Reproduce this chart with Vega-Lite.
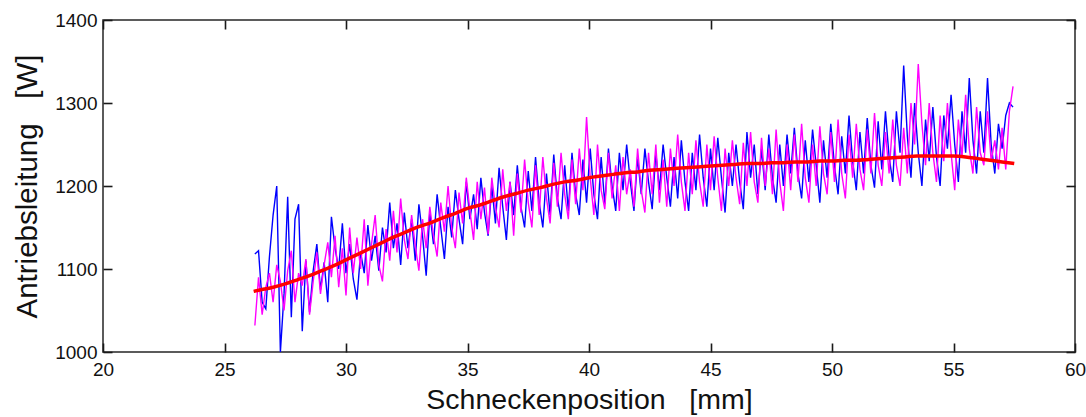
{
  "$schema": "https://vega.github.io/schema/vega-lite/v6.json",
  "width": 972,
  "height": 332,
  "autosize": {"type": "none"},
  "padding": {"left": 103, "top": 20, "right": 11, "bottom": 65},
  "background": "white",
  "config": {
    "view": {"stroke": "#262626", "strokeWidth": 1.5},
    "axis": {
      "grid": false,
      "domain": false,
      "ticks": true,
      "tickSize": 9,
      "offset": -9,
      "zindex": 1,
      "tickColor": "#1a1a1a",
      "tickWidth": 1.6,
      "labelFont": "Liberation Sans",
      "labelFontSize": 19,
      "labelColor": "#111111",
      "titleFont": "Liberation Sans",
      "titleFontSize": 28,
      "titleFontWeight": "normal",
      "titleColor": "#111111"
    }
  },
  "datasets": {
    "noise": [
      {"x":26.25,"b":1118,"m":1032},{"x":26.40,"b":1122,"m":1090},{"x":26.55,"b":1060,"m":1045},{"x":26.70,"b":1052,"m":1078},
      {"x":26.85,"b":1115,"m":1095},{"x":27.00,"b":1165,"m":1060},{"x":27.15,"b":1200,"m":1105},{"x":27.30,"b":1000,"m":1085},
      {"x":27.45,"b":1070,"m":1050},{"x":27.60,"b":1187,"m":1098},{"x":27.75,"b":1042,"m":1122},{"x":27.90,"b":1160,"m":1060},
      {"x":28.05,"b":1178,"m":1095},{"x":28.20,"b":1025,"m":1080},{"x":28.35,"b":1110,"m":1112},{"x":28.50,"b":1048,"m":1045},
      {"x":28.65,"b":1098,"m":1085},{"x":28.80,"b":1130,"m":1120},{"x":28.95,"b":1075,"m":1070},{"x":29.10,"b":1108,"m":1105},
      {"x":29.25,"b":1060,"m":1132},{"x":29.40,"b":1163,"m":1090},{"x":29.55,"b":1125,"m":1140},{"x":29.70,"b":1100,"m":1078},
      {"x":29.85,"b":1155,"m":1125},{"x":30.00,"b":1095,"m":1068},{"x":30.15,"b":1130,"m":1150},{"x":30.30,"b":1088,"m":1095},
      {"x":30.45,"b":1063,"m":1138},{"x":30.60,"b":1120,"m":1100},{"x":30.75,"b":1095,"m":1160},{"x":30.90,"b":1153,"m":1080},
      {"x":31.05,"b":1110,"m":1130},{"x":31.20,"b":1140,"m":1165},{"x":31.35,"b":1098,"m":1105},{"x":31.50,"b":1150,"m":1085},
      {"x":31.65,"b":1120,"m":1148},{"x":31.80,"b":1180,"m":1110},{"x":31.95,"b":1125,"m":1170},{"x":32.10,"b":1155,"m":1120},
      {"x":32.25,"b":1105,"m":1185},{"x":32.40,"b":1168,"m":1135},{"x":32.55,"b":1125,"m":1112},{"x":32.70,"b":1160,"m":1165},
      {"x":32.85,"b":1110,"m":1128},{"x":33.00,"b":1178,"m":1098},{"x":33.15,"b":1140,"m":1160},{"x":33.30,"b":1092,"m":1125},
      {"x":33.45,"b":1168,"m":1175},{"x":33.60,"b":1130,"m":1140},{"x":33.75,"b":1190,"m":1115},{"x":33.90,"b":1150,"m":1180},
      {"x":34.05,"b":1112,"m":1145},{"x":34.20,"b":1175,"m":1200},{"x":34.35,"b":1138,"m":1150},{"x":34.50,"b":1195,"m":1125},
      {"x":34.65,"b":1160,"m":1192},{"x":34.80,"b":1130,"m":1155},{"x":34.95,"b":1205,"m":1210},{"x":35.10,"b":1160,"m":1170},
      {"x":35.25,"b":1190,"m":1135},{"x":35.40,"b":1148,"m":1205},{"x":35.55,"b":1210,"m":1160},{"x":35.70,"b":1168,"m":1198},
      {"x":35.85,"b":1140,"m":1142},{"x":36.00,"b":1200,"m":1210},{"x":36.15,"b":1155,"m":1175},{"x":36.30,"b":1222,"m":1150},
      {"x":36.45,"b":1175,"m":1220},{"x":36.60,"b":1135,"m":1170},{"x":36.75,"b":1205,"m":1205},{"x":36.90,"b":1165,"m":1140},
      {"x":37.05,"b":1225,"m":1215},{"x":37.20,"b":1175,"m":1168},{"x":37.35,"b":1150,"m":1232},{"x":37.50,"b":1218,"m":1180},
      {"x":37.65,"b":1170,"m":1150},{"x":37.80,"b":1235,"m":1225},{"x":37.95,"b":1180,"m":1165},{"x":38.10,"b":1150,"m":1235},
      {"x":38.25,"b":1215,"m":1185},{"x":38.40,"b":1165,"m":1155},{"x":38.55,"b":1238,"m":1228},{"x":38.70,"b":1185,"m":1175},
      {"x":38.85,"b":1160,"m":1240},{"x":39.00,"b":1225,"m":1190},{"x":39.15,"b":1170,"m":1160},{"x":39.30,"b":1240,"m":1232},
      {"x":39.45,"b":1190,"m":1178},{"x":39.60,"b":1165,"m":1245},{"x":39.75,"b":1232,"m":1195},{"x":39.90,"b":1180,"m":1283},
      {"x":40.05,"b":1245,"m":1210},{"x":40.20,"b":1190,"m":1165},{"x":40.35,"b":1160,"m":1250},{"x":40.50,"b":1235,"m":1195},
      {"x":40.65,"b":1178,"m":1172},{"x":40.80,"b":1245,"m":1240},{"x":40.95,"b":1200,"m":1185},{"x":41.10,"b":1170,"m":1225},
      {"x":41.25,"b":1240,"m":1170},{"x":41.40,"b":1195,"m":1235},{"x":41.55,"b":1250,"m":1190},{"x":41.70,"b":1205,"m":1220},
      {"x":41.85,"b":1170,"m":1175},{"x":42.00,"b":1235,"m":1245},{"x":42.15,"b":1190,"m":1195},{"x":42.30,"b":1245,"m":1168},
      {"x":42.45,"b":1205,"m":1240},{"x":42.60,"b":1172,"m":1190},{"x":42.75,"b":1240,"m":1250},{"x":42.90,"b":1195,"m":1180},
      {"x":43.05,"b":1250,"m":1232},{"x":43.20,"b":1210,"m":1175},{"x":43.35,"b":1175,"m":1245},{"x":43.50,"b":1235,"m":1200},
      {"x":43.65,"b":1185,"m":1262},{"x":43.80,"b":1255,"m":1205},{"x":43.95,"b":1205,"m":1170},{"x":44.10,"b":1170,"m":1240},
      {"x":44.25,"b":1240,"m":1190},{"x":44.40,"b":1195,"m":1255},{"x":44.55,"b":1262,"m":1205},{"x":44.70,"b":1210,"m":1175},
      {"x":44.85,"b":1175,"m":1250},{"x":45.00,"b":1245,"m":1195},{"x":45.15,"b":1195,"m":1260},{"x":45.30,"b":1258,"m":1210},
      {"x":45.45,"b":1210,"m":1170},{"x":45.60,"b":1168,"m":1245},{"x":45.75,"b":1240,"m":1200},{"x":45.90,"b":1200,"m":1255},
      {"x":46.05,"b":1250,"m":1210},{"x":46.20,"b":1205,"m":1178},{"x":46.35,"b":1172,"m":1252},{"x":46.50,"b":1265,"m":1200},
      {"x":46.65,"b":1210,"m":1265},{"x":46.80,"b":1250,"m":1205},{"x":46.95,"b":1190,"m":1180},{"x":47.10,"b":1245,"m":1258},
      {"x":47.25,"b":1195,"m":1200},{"x":47.40,"b":1262,"m":1245},{"x":47.55,"b":1210,"m":1190},{"x":47.70,"b":1180,"m":1268},
      {"x":47.85,"b":1250,"m":1205},{"x":48.00,"b":1200,"m":1170},{"x":48.15,"b":1262,"m":1250},{"x":48.30,"b":1215,"m":1195},
      {"x":48.45,"b":1270,"m":1262},{"x":48.60,"b":1215,"m":1205},{"x":48.75,"b":1185,"m":1275},{"x":48.90,"b":1255,"m":1210},
      {"x":49.05,"b":1205,"m":1180},{"x":49.20,"b":1268,"m":1250},{"x":49.35,"b":1225,"m":1200},{"x":49.50,"b":1180,"m":1272},
      {"x":49.65,"b":1255,"m":1215},{"x":49.80,"b":1210,"m":1190},{"x":49.95,"b":1275,"m":1265},{"x":50.10,"b":1225,"m":1205},
      {"x":50.25,"b":1190,"m":1280},{"x":50.40,"b":1260,"m":1215},{"x":50.55,"b":1215,"m":1185},{"x":50.70,"b":1285,"m":1262},
      {"x":50.85,"b":1230,"m":1210},{"x":51.00,"b":1195,"m":1275},{"x":51.15,"b":1265,"m":1220},{"x":51.30,"b":1215,"m":1195},
      {"x":51.45,"b":1282,"m":1268},{"x":51.60,"b":1225,"m":1215},{"x":51.75,"b":1198,"m":1288},{"x":51.90,"b":1278,"m":1225},
      {"x":52.05,"b":1220,"m":1200},{"x":52.20,"b":1290,"m":1265},{"x":52.35,"b":1235,"m":1215},{"x":52.50,"b":1205,"m":1280},
      {"x":52.65,"b":1290,"m":1225},{"x":52.80,"b":1240,"m":1200},{"x":52.95,"b":1345,"m":1270},{"x":53.10,"b":1260,"m":1215},
      {"x":53.25,"b":1210,"m":1300},{"x":53.40,"b":1300,"m":1250},{"x":53.55,"b":1240,"m":1347},{"x":53.70,"b":1200,"m":1275},
      {"x":53.85,"b":1280,"m":1225},{"x":54.00,"b":1230,"m":1300},{"x":54.15,"b":1295,"m":1240},{"x":54.30,"b":1235,"m":1205},
      {"x":54.45,"b":1200,"m":1285},{"x":54.60,"b":1285,"m":1230},{"x":54.75,"b":1245,"m":1300},{"x":54.90,"b":1310,"m":1240},
      {"x":55.05,"b":1250,"m":1195},{"x":55.20,"b":1205,"m":1280},{"x":55.35,"b":1290,"m":1235},{"x":55.50,"b":1240,"m":1310},
      {"x":55.65,"b":1330,"m":1245},{"x":55.80,"b":1255,"m":1215},{"x":55.95,"b":1215,"m":1295},{"x":56.10,"b":1290,"m":1240},
      {"x":56.25,"b":1240,"m":1225},{"x":56.40,"b":1330,"m":1290},{"x":56.55,"b":1250,"m":1230},{"x":56.70,"b":1215,"m":1255},
      {"x":56.85,"b":1275,"m":1220},{"x":57.00,"b":1245,"m":1270},{"x":57.15,"b":1285,"m":1220},{"x":57.30,"b":1300,"m":1290},
      {"x":57.45,"b":1295,"m":1320}
    ],
    "trend": [
      {"x":26.2,"y":1073},{"x":26.5,"y":1075},{"x":27,"y":1078},{"x":27.5,"y":1082},{"x":28,"y":1087},{"x":28.5,"y":1092},
      {"x":29,"y":1098},{"x":29.5,"y":1104},{"x":30,"y":1111},{"x":30.5,"y":1118},{"x":31,"y":1125},{"x":31.5,"y":1132},
      {"x":32,"y":1139},{"x":32.5,"y":1145},{"x":33,"y":1151},{"x":33.5,"y":1156},{"x":34,"y":1162},{"x":34.5,"y":1167},
      {"x":35,"y":1173},{"x":35.5,"y":1177},{"x":36,"y":1182},{"x":36.5,"y":1187},{"x":37,"y":1191},{"x":37.5,"y":1195},
      {"x":38,"y":1198},{"x":38.5,"y":1202},{"x":39,"y":1205},{"x":39.5,"y":1207},{"x":40,"y":1210},{"x":40.5,"y":1212},
      {"x":41,"y":1214},{"x":41.5,"y":1216},{"x":42,"y":1217},{"x":42.5,"y":1219},{"x":43,"y":1220},{"x":43.5,"y":1221},
      {"x":44,"y":1222},{"x":44.5,"y":1223},{"x":45,"y":1224},{"x":45.5,"y":1225},{"x":46,"y":1226},{"x":46.5,"y":1227},
      {"x":47,"y":1227},{"x":47.5,"y":1228},{"x":48,"y":1228},{"x":48.5,"y":1229},{"x":49,"y":1229},{"x":49.5,"y":1230},
      {"x":50,"y":1230},{"x":50.5,"y":1231},{"x":51,"y":1231},{"x":51.5,"y":1232},{"x":52,"y":1233},{"x":52.5,"y":1234},
      {"x":53,"y":1235},{"x":53.5,"y":1236},{"x":54,"y":1236},{"x":54.5,"y":1236},{"x":55,"y":1236},{"x":55.5,"y":1235},
      {"x":56,"y":1233},{"x":56.5,"y":1231},{"x":57,"y":1229},{"x":57.5,"y":1227}
    ]
  },
  "layer": [
    {
      "data": {"name": "noise"},
      "mark": {"type": "line", "color": "#0000FF", "strokeWidth": 1.4, "clip": true},
      "encoding": {
        "x": {"field": "x", "type": "quantitative", "scale": {"domain": [20, 60], "nice": false},
              "axis": {"orient": "bottom", "values": [20,25,30,35,40,45,50,55,60], "title": "Schneckenposition\u00a0\u00a0\u00a0[mm]",
                       "labelPadding": 8, "titlePadding": 6, "titleFontSize": 28.5, "labelFlush": false}},
        "y": {"field": "b", "type": "quantitative", "scale": {"domain": [1000, 1400], "nice": false},
              "axis": {"orient": "left", "values": [1000,1100,1200,1300,1400], "format": "d", "title": "Antriebsleitung\u00a0\u00a0\u00a0[W]",
                       "labelPadding": 6, "titlePadding": 12, "titleFontSize": 29.5, "labelFlush": false}}
      }
    },
    {
      "data": {"name": "noise"},
      "mark": {"type": "line", "color": "#FF00FF", "strokeWidth": 1.4, "clip": true},
      "encoding": {
        "x": {"field": "x", "type": "quantitative", "axis": null},
        "y": {"field": "m", "type": "quantitative", "axis": null}
      }
    },
    {
      "data": {"name": "trend"},
      "mark": {"type": "line", "color": "#FF0000", "strokeWidth": 3.5, "interpolate": "monotone"},
      "encoding": {
        "x": {"field": "x", "type": "quantitative", "axis": null},
        "y": {"field": "y", "type": "quantitative", "axis": null}
      }
    },
    {
      "data": {"name": "trend"},
      "mark": {"type": "point", "opacity": 0},
      "encoding": {
        "x": {"field": "x", "type": "quantitative",
              "axis": {"orient": "top", "values": [20,25,30,35,40,45,50,55,60], "labels": false, "title": null}},
        "y": {"field": "y", "type": "quantitative",
              "axis": {"orient": "right", "values": [1000,1100,1200,1300,1400], "labels": false, "title": null}}
      }
    }
  ],
  "resolve": {"axis": {"x": "independent", "y": "independent"}}
}
